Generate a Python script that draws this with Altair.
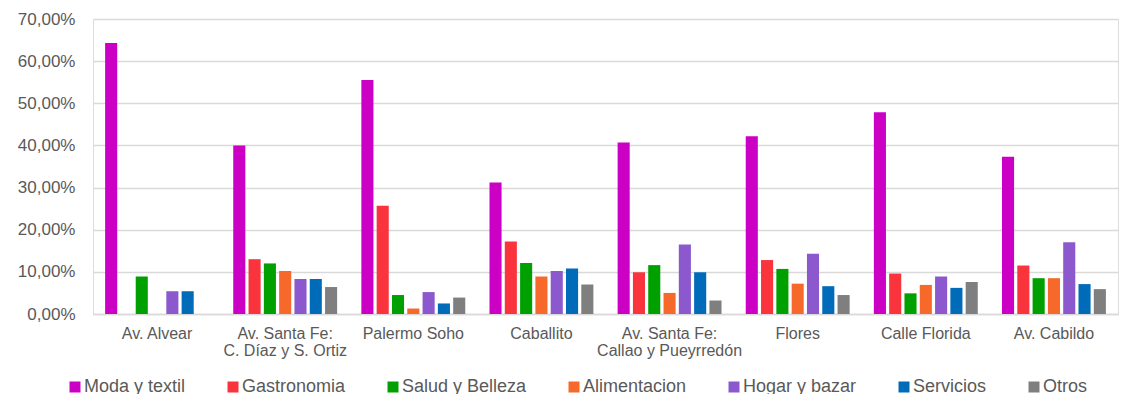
import altair as alt
import pandas as pd

zonas = ["Av. Alvear", "Av. Santa Fe:|C. Díaz y S. Ortiz", "Palermo Soho", "Caballito",
         "Av. Santa Fe:|Callao y Pueyrredón", "Flores", "Calle Florida", "Av. Cabildo"]
rubros = ["Moda y textil", "Gastronomia", "Salud y Belleza", "Alimentacion",
          "Hogar y bazar", "Servicios", "Otros"]
colores = ["#CC00C4", "#FA343D", "#00A000", "#F7692A", "#8B58CD", "#006BB8", "#7F7F7F"]

moda = [64.3, 40.0, 55.5, 31.2, 40.7, 42.2, 47.9, 37.3]
gastronomia = [0.0, 13.0, 25.7, 17.2, 9.9, 12.8, 9.6, 11.5]
salud = [8.9, 12.0, 4.5, 12.1, 11.6, 10.7, 4.9, 8.5]
alimentacion = [0.0, 10.2, 1.3, 8.9, 5.0, 7.2, 6.9, 8.5]
hogar = [5.4, 8.3, 5.2, 10.2, 16.5, 14.3, 8.9, 17.0]
servicios = [5.4, 8.3, 2.5, 10.8, 9.9, 6.6, 6.2, 7.1]
otros = [0.0, 6.4, 3.9, 7.0, 3.2, 4.5, 7.6, 5.9]

series = [moda, gastronomia, salud, alimentacion, hogar, servicios, otros]
rows = []
for r, vals in zip(rubros, series):
    for z, v in zip(zonas, vals):
        rows.append({"zona": z, "rubro": r, "valor": v})
df = pd.DataFrame(rows)

chart = alt.Chart(df).mark_bar().encode(
    x=alt.X("zona:N", sort=zonas, title=None,
            scale=alt.Scale(paddingInner=0.164, paddingOuter=0.082),
            axis=alt.Axis(labelAngle=0, labelExpr="split(datum.label, '|')",
                          labelFontSize=16, labelColor="#595959", labelFont="Liberation Sans",
                          labelPadding=11, labelLineHeight=17, ticks=False,
                          domainColor="#D9D9D9", domainWidth=1.5, labelBaseline="top")),
    xOffset=alt.XOffset("rubro:N", sort=rubros,
                        scale=alt.Scale(paddingInner=0.21, paddingOuter=0.105)),
    y=alt.Y("valor:Q", title=None,
            scale=alt.Scale(domain=[0, 70], nice=False),
            axis=alt.Axis(values=[0, 10, 20, 30, 40, 50, 60, 70],
                          labelExpr="replace(format(datum.value, '.2f'), '.', ',') + '%'",
                          labelFontSize=17, labelColor="#595959", labelFont="Liberation Sans",
                          labelPadding=18, ticks=False, domain=False,
                          gridColor="#D9D9D9", gridWidth=1.5)),
    color=alt.Color("rubro:N", sort=rubros,
                    scale=alt.Scale(domain=rubros, range=colores),
                    legend=alt.Legend(title=None, orient="none", legendX=-27, legendY=359,
                                      direction="horizontal", symbolType="square",
                                      symbolSize=121, symbolStrokeWidth=0,
                                      labelFontSize=18, labelColor="#595959",
                                      labelFont="Liberation Sans", labelOffset=0,
                                      columnPadding=38, labelLimit=300)),
).properties(
    width=1025, height=295,
    autosize=alt.AutoSizeParams(type="none"),
    padding={"left": 93, "top": 19, "right": 10, "bottom": 80},
).configure_view(stroke=None).configure(background="white")

chart.save("out.html", embed_options={"renderer": "svg", "actions": False})
